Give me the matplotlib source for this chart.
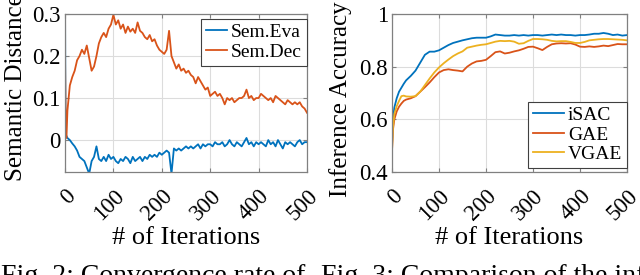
import matplotlib
matplotlib.use("Agg")
import matplotlib.pyplot as plt
import matplotlib.transforms as mtransforms

plt.rcParams['font.family'] = ['Liberation Serif', 'DejaVu Serif']
plt.rcParams['mathtext.fontset'] = 'stix'

# ---------------- data: left panel (semantic distance) ----------------
iters_left = [0, 1, 3] + list(range(5, 501, 5))
sem_dec = [0.21, 0.08, 0.005,
           0.07, 0.13, 0.15, 0.165, 0.19, 0.20, 0.215, 0.205, 0.225, 0.195,
           0.165, 0.175, 0.20, 0.23, 0.245, 0.255, 0.245, 0.265, 0.275, 0.298,
           0.275, 0.285, 0.265, 0.275, 0.255, 0.27, 0.258, 0.265, 0.255, 0.28,
           0.26, 0.255, 0.245, 0.24, 0.25, 0.235, 0.24, 0.225, 0.215, 0.21,
           0.205, 0.215, 0.26, 0.20, 0.185, 0.17, 0.18, 0.165, 0.17, 0.16,
           0.165, 0.155, 0.15, 0.135, 0.15, 0.14, 0.13, 0.12, 0.125, 0.105,
           0.11, 0.115, 0.105, 0.11, 0.10, 0.085, 0.10, 0.095, 0.10, 0.09,
           0.095, 0.10, 0.10, 0.105, 0.12, 0.10, 0.105, 0.095, 0.10, 0.10,
           0.11, 0.105, 0.10, 0.095, 0.10, 0.09, 0.105, 0.10, 0.095, 0.09,
           0.085, 0.095, 0.09, 0.085, 0.09, 0.085, 0.09, 0.08, 0.075, 0.065]
sem_eva = [0.35, 0.015, 0.01,
           0.005, 0.0, -0.008, -0.015, -0.025, -0.04, -0.045, -0.05, -0.065, -0.08,
           -0.05, -0.04, -0.015, -0.045, -0.05, -0.04, -0.05, -0.035, -0.045, -0.04,
           -0.05, -0.055, -0.045, -0.05, -0.04, -0.045, -0.055, -0.04, -0.05, -0.045,
           -0.04, -0.05, -0.04, -0.045, -0.035, -0.04, -0.035, -0.04, -0.03, -0.035,
           -0.03, -0.025, -0.03, -0.08, -0.02, -0.025, -0.02, -0.025, -0.02, -0.015,
           -0.02, -0.015, -0.02, -0.015, -0.01, -0.02, -0.01, -0.015, -0.01, -0.01,
           -0.015, -0.005, -0.01, -0.01, -0.005, -0.015, -0.01, 0.0, -0.01, -0.015,
           -0.005, -0.01, -0.015, -0.005, 0.005, -0.01, -0.005, -0.015, -0.005, -0.01,
           -0.005, -0.01, -0.015, 0.0, -0.01, -0.005, -0.015, 0.0, -0.01, -0.02,
           -0.005, -0.01, -0.005, -0.01, -0.015, -0.005, 0.0, -0.01, -0.005, -0.005]

# ---------------- data: right panel (inference accuracy) ----------------
iters_right = [0, 2, 5, 10, 15, 20, 25, 30] + list(range(40, 501, 10))
isac = [0.50, 0.60, 0.645, 0.68, 0.705, 0.72, 0.735, 0.748,
        0.765, 0.785, 0.815, 0.845, 0.857, 0.857, 0.862, 0.872, 0.882, 0.89,
        0.895, 0.90, 0.904, 0.908, 0.91, 0.91, 0.91, 0.915, 0.922, 0.92,
        0.918, 0.918, 0.92, 0.918, 0.92, 0.918, 0.92, 0.92, 0.918, 0.92,
        0.922, 0.92, 0.922, 0.92, 0.92, 0.918, 0.92, 0.92, 0.922, 0.925,
        0.925, 0.928, 0.925, 0.92, 0.922, 0.918, 0.92]
gae = [0.48, 0.56, 0.60, 0.63, 0.648, 0.66, 0.67, 0.675,
       0.68, 0.688, 0.705, 0.722, 0.74, 0.76, 0.778, 0.787, 0.79, 0.787,
       0.785, 0.782, 0.80, 0.812, 0.82, 0.822, 0.826, 0.84, 0.855, 0.858,
       0.85, 0.853, 0.858, 0.862, 0.868, 0.875, 0.876, 0.87, 0.863, 0.875,
       0.885, 0.888, 0.889, 0.888, 0.889, 0.884, 0.876, 0.875, 0.877, 0.875,
       0.877, 0.88, 0.878, 0.882, 0.886, 0.885, 0.885]
vgae = [0.48, 0.57, 0.62, 0.65, 0.67, 0.688, 0.69, 0.687,
        0.686, 0.688, 0.705, 0.73, 0.755, 0.778, 0.797, 0.813, 0.827, 0.84,
        0.85, 0.858, 0.872, 0.876, 0.88, 0.883, 0.885, 0.89, 0.895, 0.898,
        0.897, 0.898, 0.895, 0.887, 0.889, 0.898, 0.905, 0.905, 0.904, 0.902,
        0.898, 0.896, 0.897, 0.897, 0.894, 0.89, 0.89, 0.894, 0.90, 0.902,
        0.904, 0.905, 0.905, 0.904, 0.903, 0.902, 0.90]

xticks = [0, 100, 200, 300, 400, 500]
left_yticks = [0, 0.1, 0.2, 0.3]
left_yticklabels = ['0', '0.1', '0.2', '0.3']
right_yticks = [0.4, 0.6, 0.8, 1.0]
right_yticklabels = ['0.4', '0.6', '0.8', '1']

C_BLUE = '#0072BD'
C_RED = '#D95319'
C_YEL = '#EDB120'
EDGE = '#808080'

W, H = 640, 275
fig = plt.figure(figsize=(6.4, 2.75), dpi=100)

def px_axes(x0, y0, x1, y1):
    return fig.add_axes([x0 / W, 1 - y1 / H, (x1 - x0) / W, (y1 - y0) / H])

def style(ax, yticks, yticklabels, ylim, ylabel, ylabel_x, ylabel_y):
    ax.set_xlim(0, 500)
    ax.set_ylim(*ylim)
    ax.set_xticks(xticks)
    ax.set_xticklabels([str(t) for t in xticks], rotation=45, ha='right',
                       va='top', rotation_mode='anchor')
    shift = mtransforms.ScaledTranslation(-3 / 100, 0, fig.dpi_scale_trans)
    for lab in ax.get_xticklabels():
        lab.set_transform(lab.get_transform() + shift)
    ax.set_yticks(yticks)
    ax.set_yticklabels(yticklabels)
    ax.grid(True, color='#dcdcdc', lw=0.8)
    ax.set_axisbelow(True)
    for s in ax.spines.values():
        s.set_color(EDGE)
        s.set_linewidth(0.9)
    ax.tick_params(direction='in', length=3, width=0.8, color=EDGE,
                   labelsize=16.5, top=True, right=True)
    ax.tick_params(axis='x', pad=10)
    ax.tick_params(axis='y', pad=3)
    ax.set_xlabel('# of Iterations', fontsize=19)
    ax.set_ylabel(ylabel, fontsize=18)
    bb = ax.get_position()
    ax.xaxis.set_label_coords(0.5, -(238 - 172) / (bb.height * H), transform=ax.transAxes)
    ax.yaxis.set_label_coords((ylabel_x - bb.x0 * W) / (bb.width * W),
                              (172 - ylabel_y) / (bb.height * H),
                              transform=ax.transAxes)
    ax.xaxis.label.set_va('center')
    ax.yaxis.label.set_va('center')

# Left panel
ax1 = px_axes(65, 14, 307, 172)
ax1.plot(iters_left, sem_eva, color=C_BLUE, lw=1.3, label='Sem.Eva')
ax1.plot(iters_left, sem_dec, color=C_RED, lw=1.3, label='Sem.Dec')
style(ax1, left_yticks, left_yticklabels, (-0.076, 0.3), 'Semantic Distance', 16, 88)
leg1 = ax1.legend(loc='upper right', bbox_to_anchor=(1.0, 0.97), fontsize=14,
                  handlelength=1.1, handletextpad=0.2, borderpad=0.25,
                  labelspacing=0.1, borderaxespad=0, fancybox=False,
                  framealpha=1, edgecolor='#404040')
leg1.get_frame().set_linewidth(0.8)

# Right panel
ax2 = px_axes(392, 14, 627, 172)
ax2.plot(iters_right, isac, color=C_BLUE, lw=1.3, label='iSAC')
ax2.plot(iters_right, gae, color=C_RED, lw=1.3, label='GAE')
ax2.plot(iters_right, vgae, color=C_YEL, lw=1.3, label='VGAE')
style(ax2, right_yticks, right_yticklabels, (0.4, 1.0), 'Inference Accuracy', 341, 99)
leg2 = ax2.legend(loc='lower right', bbox_to_anchor=(1.0, 0.025), fontsize=14,
                  handlelength=1.6, handletextpad=0.2, borderpad=0.25,
                  labelspacing=0.1, borderaxespad=0, fancybox=False,
                  framealpha=1, edgecolor='#404040')
leg2.get_frame().set_linewidth(0.8)

# partially visible captions (cut off by the bottom edge, as in the reference)
fig.text(1 / W, 1 - 264 / H, 'Fig. 2: Convergence rate of', fontsize=20,
         ha='left', va='top')
fig.text(321 / W, 1 - 264 / H, 'Fig. 3: Comparison of the inference', fontsize=20,
         ha='left', va='top')

fig.savefig('out.png', dpi=100)
